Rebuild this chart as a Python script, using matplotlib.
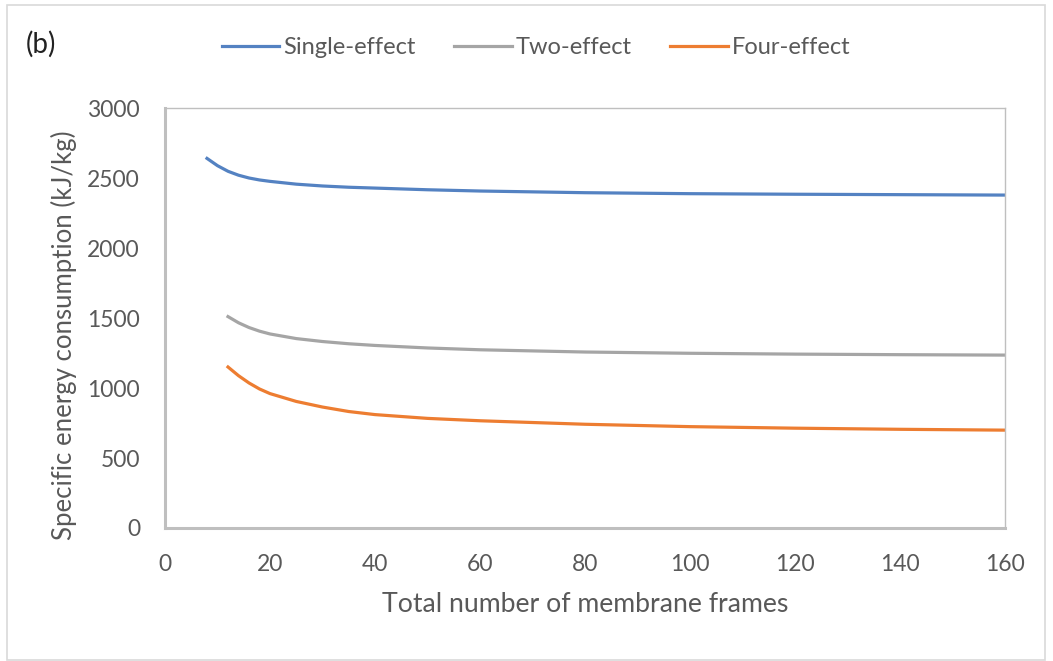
import matplotlib.pyplot as plt
from matplotlib.patches import Rectangle

# values
single_x = [8, 10, 12, 14, 16, 18, 20, 25, 30, 35, 40, 50, 60, 80, 100, 120, 140, 160]
single_y = [2640, 2588, 2548, 2520, 2500, 2486, 2476, 2456, 2443, 2434, 2428, 2416, 2407, 2395, 2388, 2384, 2381, 2378]

two_x = [12, 14, 16, 18, 20, 25, 30, 35, 40, 50, 60, 80, 100, 120, 140, 160]
two_y = [1510, 1466, 1432, 1406, 1386, 1353, 1332, 1316, 1304, 1286, 1273, 1257, 1248, 1242, 1238, 1235]

four_x = [12, 14, 16, 18, 20, 25, 30, 35, 40, 50, 60, 80, 100, 120, 140, 160]
four_y = [1150, 1088, 1036, 993, 960, 904, 864, 832, 810, 783, 766, 741, 724, 713, 705, 699]

plt.rcParams['font.family'] = ['Lato', 'DejaVu Sans']
text_col = '#595959'

fig = plt.figure(figsize=(10.53, 6.61), dpi=100)
fig.patches.append(Rectangle((7 / 1053, 1 - 660 / 661), 1038 / 1053, 655 / 661,
                             transform=fig.transFigure, fill=False,
                             edgecolor='#D9D9D9', linewidth=1.2))

ax = fig.add_axes([165 / 1053, 1 - 528 / 661, 840 / 1053, 420 / 661])
ax.plot(single_x, single_y, color='#5482C2', lw=2.3, label='Single-effect')
ax.plot(two_x, two_y, color='#A5A5A5', lw=2.3, label='Two-effect')
ax.plot(four_x, four_y, color='#ED7D31', lw=2.3, label='Four-effect')

ax.set_xlim(0, 160)
ax.set_ylim(0, 3000)
ax.set_xticks(range(0, 161, 20))
ax.set_yticks(range(0, 3001, 500))
ax.tick_params(length=0, labelsize=16.5, labelcolor=text_col)
ax.tick_params(axis='y', pad=18)
ax.tick_params(axis='x', pad=19)

for side in ['left', 'bottom']:
    ax.spines[side].set_color('#BFBFBF')
    ax.spines[side].set_linewidth(2.2)
for side in ['top', 'right']:
    ax.spines[side].set_color('#BFBFBF')
    ax.spines[side].set_linewidth(1.0)

fig.text(585 / 1053, 1 - 604 / 661, 'Total number of membrane frames', fontsize=19.2,
         color=text_col, ha='center', va='center')
fig.text(64 / 1053, 1 - 335 / 661, 'Specific energy consumption (kJ/kg)', fontsize=18.5,
         color=text_col, ha='center', va='center', rotation=90)

fig.legend(loc='center', bbox_to_anchor=(536 / 1053, 1 - 48 / 661), ncol=3, frameon=False,
           fontsize=17, labelcolor=text_col, handlelength=2.45, handletextpad=0.18,
           columnspacing=1.6)

fig.text(26 / 1053, 1 - 44 / 661, '(b)', fontsize=20, color='#222222', va='center')

fig.savefig('out.png', dpi=100)
